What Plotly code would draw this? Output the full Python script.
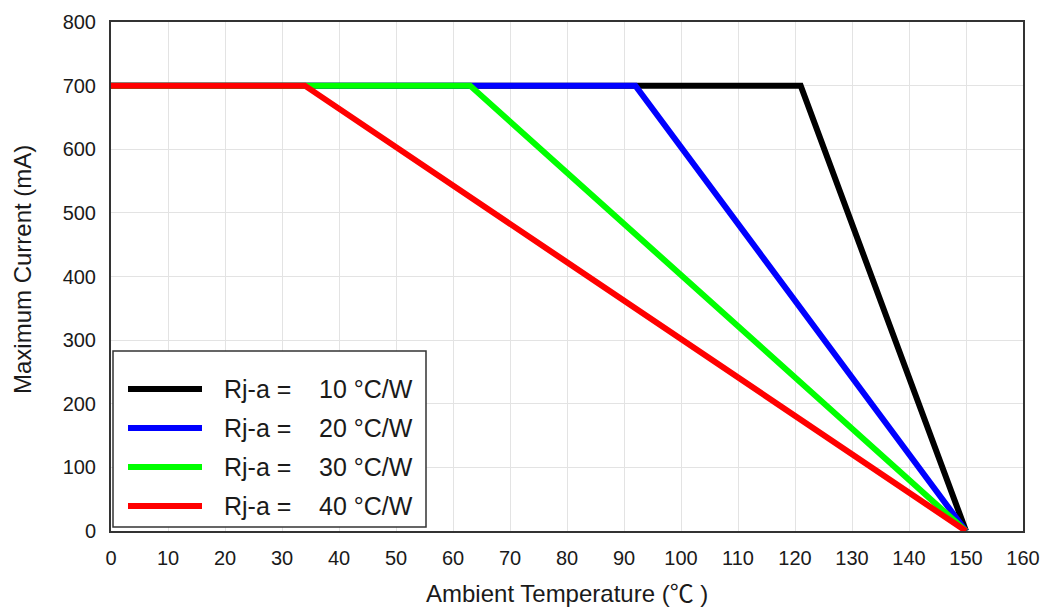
import plotly.graph_objects as go

# Data
r_values = [10, 20, 30, 40]
colors = ["#000000", "#0000FF", "#00FF00", "#FF0000"]
x_black = [0, 121, 150]
y_black = [700, 700, 0]
x_blue = [0, 92, 150]
y_blue = [700, 700, 0]
x_green = [0, 63, 150]
y_green = [700, 700, 0]
x_red = [0, 34, 150]
y_red = [700, 700, 0]
xs = [x_black, x_blue, x_green, x_red]
ys = [y_black, y_blue, y_green, y_red]
x_title = "Ambient Temperature (<span style='font-family:Noto Sans CJK SC'>\u2103</span> )"
y_title = "Maximum Current (mA)"

W, H = 1043, 608
ML, MR, MT, MB = 111, 20, 22, 77
PW, PH = W - ML - MR, H - MT - MB


def px(x):
    return (x - ML) / PW


def py(y):
    return (H - MB - y) / PH


font = "Arial, Liberation Sans, sans-serif"
txt = "#1a1a1a"
fig = go.Figure()
for x, y, c, r in zip(xs, ys, colors, r_values):
    fig.add_trace(go.Scatter(x=x, y=y, mode="lines", name=f"Rj-a = {r} \u00b0C/W",
                             line=dict(color=c, width=6), showlegend=False))

axis_common = dict(showgrid=True, gridcolor="#e3e3e3", gridwidth=1, showline=True,
                   linecolor="#333", linewidth=2, mirror=True, zeroline=False,
                   ticks="outside", tickcolor="rgba(0,0,0,0)", automargin=False,
                   tickfont=dict(size=20, color=txt))
fig.update_layout(
    width=W, height=H,
    margin=dict(l=ML, r=MR, t=MT, b=MB, autoexpand=False),
    plot_bgcolor="white", paper_bgcolor="white",
    font=dict(family=font, color=txt, size=20),
    showlegend=False,
    xaxis=dict(range=[0, 160], dtick=10, ticklen=8, **axis_common),
    yaxis=dict(range=[0, 800], dtick=100, ticklen=9, **axis_common),
)

# axis titles
fig.add_annotation(xref="paper", yref="paper", x=0.5, y=py(591),
                   xanchor="center", yanchor="middle", showarrow=False,
                   text=x_title, font=dict(size=24, color=txt, family=font))
fig.add_annotation(xref="paper", yref="paper", x=px(22), y=py(270),
                   xanchor="center", yanchor="middle", showarrow=False, textangle=-90,
                   text=y_title, font=dict(size=24, color=txt, family=font))

# manual legend
fig.add_shape(type="rect", xref="paper", yref="paper",
              x0=px(113), x1=px(426), y0=py(527), y1=py(351),
              line=dict(color="#333", width=1.5), fillcolor="white", layer="above")
row_y = [389, 428, 467, 506]
for r, c, yy in zip(r_values, colors, row_y):
    fig.add_shape(type="line", xref="paper", yref="paper",
                  x0=px(128), x1=px(202), y0=py(yy), y1=py(yy),
                  line=dict(color=c, width=6), layer="above")
    fig.add_annotation(xref="paper", yref="paper", x=px(222), y=py(yy),
                       xanchor="left", yanchor="middle", showarrow=False,
                       text="Rj-a =", font=dict(size=25, color=txt, family=font))
    fig.add_annotation(xref="paper", yref="paper", x=px(415), y=py(yy),
                       xanchor="right", yanchor="middle", showarrow=False,
                       text=f"{r} \u00b0C/W", font=dict(size=25, color=txt, family=font))

fig.write_html("out.html", config={"displayModeBar": False},
               post_script="document.body.style.margin='0px';")
